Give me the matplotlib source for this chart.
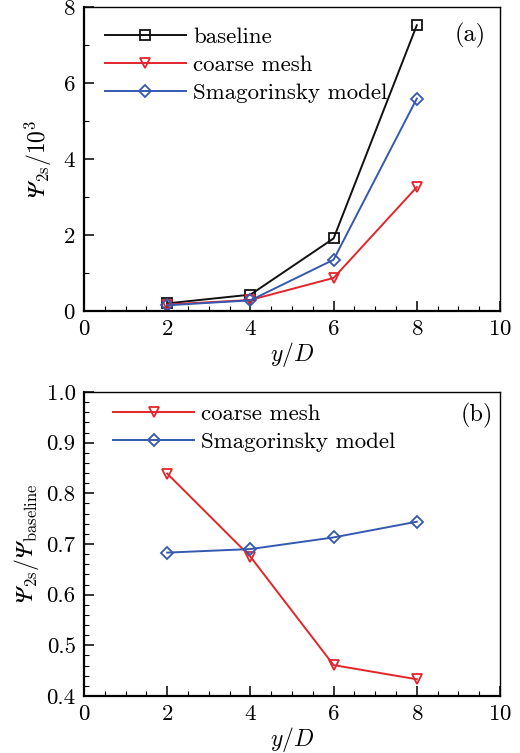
import matplotlib
matplotlib.use("Agg")
import matplotlib.pyplot as plt
from matplotlib.ticker import MultipleLocator

plt.rcParams["font.family"] = "cmr10"
# Computer Modern for math; an italic serif face supplies the slanted Psi
plt.rcParams["mathtext.fontset"] = "custom"
plt.rcParams["mathtext.rm"] = "cmr10"
plt.rcParams["mathtext.it"] = "cmmi10"
plt.rcParams["mathtext.sf"] = "STIXGeneral:style=italic:weight=normal"
plt.rcParams["axes.formatter.use_mathtext"] = True

# Data
y_over_D = [2, 4, 6, 8]
baseline = [0.20, 0.43, 1.91, 7.52]
coarse_mesh = [0.17, 0.29, 0.87, 3.26]
smagorinsky = [0.15, 0.28, 1.35, 5.59]

ratio_coarse = [0.839, 0.675, 0.461, 0.433]
ratio_smag = [0.683, 0.690, 0.713, 0.744]

x_ticks = [0, 2, 4, 6, 8, 10]

BLACK = "#111111"
RED = "#e3252b"
BLUE = "#3559b0"

fig = plt.figure(figsize=(5.2, 7.53), dpi=100)
ax_a = fig.add_axes([84 / 520, 1 - 311 / 753, 416 / 520, 304 / 753])
ax_b = fig.add_axes([84 / 520, 1 - 696 / 753, 416 / 520, 304 / 753])

mk = dict(markersize=7, markerfacecolor="none", markeredgewidth=1.3, linewidth=1.4)
mk_d = {**mk, "markersize": 6}

ax_a.plot(y_over_D, baseline, color=BLACK, marker="s", label="baseline", **mk)
ax_a.plot(y_over_D, coarse_mesh, color=RED, marker="v", label="coarse mesh", **mk)
ax_a.plot(y_over_D, smagorinsky, color=BLUE, marker="D", label="Smagorinsky model", **mk_d)

ax_b.plot(y_over_D, ratio_coarse, color=RED, marker="v", label="coarse mesh", **mk)
ax_b.plot(y_over_D, ratio_smag, color=BLUE, marker="D", label="Smagorinsky model", **mk_d)

for ax in (ax_a, ax_b):
    ax.set_xlim(0, 10)
    ax.set_xticks(x_ticks)
    ax.xaxis.set_minor_locator(MultipleLocator(0.5))
    ax.tick_params(which="both", direction="in", top=False, right=False,
                   labelsize=16.5, pad=6)
    ax.tick_params(which="major", length=7, width=1.1)
    ax.tick_params(which="minor", length=3.5, width=0.8)
    for s in ("left", "bottom"):
        ax.spines[s].set_linewidth(1.6)
    for s in ("top", "right"):
        ax.spines[s].set_linewidth(1.0)
    ax.set_xlabel(r"$y/D$", fontsize=17, labelpad=1)

ax_a.set_ylim(0, 8)
ax_a.yaxis.set_major_locator(MultipleLocator(2))
ax_a.yaxis.set_minor_locator(MultipleLocator(1))
ax_a.set_ylabel(r"$\mathsf{\Psi}_{2\mathrm{s}}/10^3$", fontsize=17, labelpad=6)

ax_b.set_ylim(0.4, 1.0)
ax_b.set_yticks([0.4, 0.5, 0.6, 0.7, 0.8, 0.9, 1.0])
ax_b.set_yticklabels(["0.4", "0.5", "0.6", "0.7", "0.8", "0.9", "1.0"])
ax_b.yaxis.set_minor_locator(MultipleLocator(0.02))
ax_b.set_ylabel(r"$\mathsf{\Psi}_{2\mathrm{s}}/\mathsf{\Psi}_{\mathrm{baseline}}$",
                fontsize=17, labelpad=4)

leg_kw = dict(frameon=False, fontsize=16.5, handlelength=3.55, handletextpad=0.3,
              labelspacing=0.35, borderaxespad=0.0, borderpad=0.0)
ax_a.legend(loc="upper left", bbox_to_anchor=(0.05, 0.935), **leg_kw)
ax_b.legend(loc="upper left", bbox_to_anchor=(0.07, 0.96), **leg_kw)

ax_a.text(0.966, 0.905, "(a)", transform=ax_a.transAxes, ha="right", va="center",
          fontsize=17.5)
ax_b.text(0.983, 0.924, "(b)", transform=ax_b.transAxes, ha="right", va="center",
          fontsize=17.5)

fig.savefig("out.png", dpi=100)
